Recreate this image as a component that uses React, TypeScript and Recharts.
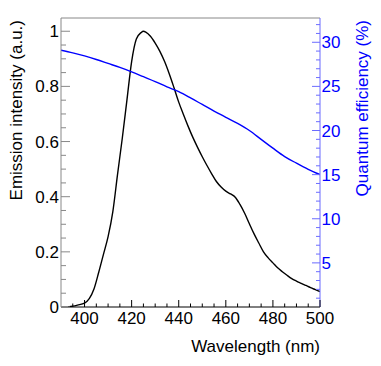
import { ComposedChart, Line, XAxis, YAxis, ReferenceLine } from 'recharts';

// emission spectrum (black, left axis)
const emissionWl = [
  393, 395, 397, 400, 402, 404, 406, 408, 410, 412, 414, 416, 418, 420, 422, 424, 425, 426, 428, 430,
  432, 434, 436, 438, 440, 442, 444, 446, 448, 450, 452, 454, 456, 458, 460, 462, 464, 466, 468, 470,
  472, 474, 476, 478, 480, 482, 484, 486, 488, 490, 492, 494, 496, 498, 500,
];
const emissionVal = [
  0, 0.003, 0.007, 0.014, 0.03, 0.065, 0.125, 0.19, 0.255, 0.345, 0.48, 0.61, 0.75, 0.89, 0.972, 0.995, 1.0, 0.997, 0.982, 0.957,
  0.927, 0.89, 0.845, 0.795, 0.743, 0.698, 0.655, 0.615, 0.579, 0.545, 0.513, 0.483, 0.455, 0.435, 0.42, 0.41, 0.398, 0.372, 0.34, 0.302,
  0.265, 0.232, 0.2, 0.178, 0.16, 0.142, 0.128, 0.115, 0.103, 0.094, 0.086, 0.078, 0.07, 0.063, 0.056,
];

// quantum efficiency (blue, right axis)
const qeWl = [390, 395, 400, 405, 410, 415, 420, 425, 430, 435, 440, 445, 450, 455, 460, 465, 470, 475, 480, 485, 490, 495, 500];
const qeVal = [
  29.1, 28.8, 28.45, 28.05, 27.6, 27.15, 26.65, 26.1, 25.55, 24.95, 24.4, 23.7, 22.95, 22.2, 21.5, 20.8, 20.0, 19.0, 18.0, 17.05,
  16.3, 15.6, 15.0,
];

const xTicks = [395, 400, 405, 410, 415, 420, 425, 430, 435, 440, 445, 450, 455, 460, 465, 470, 475, 480, 485, 490, 495, 500];
const xLabels = [400, 420, 440, 460, 480, 500];
const leftTicks = [
  0.05, 0.1, 0.15, 0.2, 0.25, 0.3, 0.35, 0.4, 0.45, 0.5, 0.55, 0.6, 0.65, 0.7, 0.75, 0.8, 0.85, 0.9, 0.95, 1,
];
const leftLabels = [0, 0.2, 0.4, 0.6, 0.8, 1];
const rightTicks = [
  1, 2, 3, 4, 5, 6, 7, 8, 9, 10, 11, 12, 13, 14, 15, 16, 17, 18, 19, 20, 21, 22, 23, 24, 25, 26, 27, 28, 29, 30, 31, 32,
];
const rightLabels = [5, 10, 15, 20, 25, 30];

const emissionData = emissionWl.map((wl, i) => ({ wl, emission: emissionVal[i] }));
const qeData = qeWl.map((wl, i) => ({ wl, qe: qeVal[i] }));

const font = '"Liberation Sans", Arial, Helvetica, sans-serif';
const blue = '#0000ff';
const axisBlue = '#6b6bff';

const XTick = ({ x, y, payload }: any) => {
  const major = xLabels.includes(payload.value);
  return (
    <g>
      <line x1={x} x2={x} y1={y} y2={y - (major ? 7 : 3.5)} stroke="#000" />
      {major && (
        <text x={x} y={y + 16.5} textAnchor="middle" fontSize={17} fontFamily={font} fill="#000">
          {payload.value}
        </text>
      )}
    </g>
  );
};

const LeftTick = ({ x, y, payload }: any) => {
  const major = leftLabels.includes(payload.value);
  return (
    <g>
      <line x1={x} x2={x + (major ? 9 : 5)} y1={y} y2={y} stroke="#888" />
      {major && (
        <text x={x - 2} y={y + 6} textAnchor="end" fontSize={17} fontFamily={font} fill="#000">
          {String(payload.value)}
        </text>
      )}
    </g>
  );
};

const RightTick = ({ x, y, payload }: any) => {
  const major = rightLabels.includes(payload.value);
  return (
    <g>
      <line x1={x} x2={x - (major ? 8 : 4)} y1={y} y2={y} stroke={axisBlue} />
      {major && (
        <text x={x + 1.5} y={y + 6} textAnchor="start" fontSize={17} fontFamily={font} fill={blue}>
          {payload.value}
        </text>
      )}
    </g>
  );
};

export default function App() {
  return (
    <div style={{ position: 'absolute', left: 0, top: 0, width: 381, height: 366, background: '#fff' }}>
      <ComposedChart width={381} height={366} margin={{ top: 18, right: 0, bottom: 0, left: 0 }}>
        <XAxis
          type="number"
          dataKey="wl"
          domain={[390, 500]}
          ticks={xTicks}
          interval={0}
          allowDataOverflow
          height={59}
          tickSize={0}
          tickMargin={0}
          tickLine={false}
          axisLine={{ stroke: '#000' }}
          tick={XTick}
          label={(p: any) => (
            <text
              x={p.viewBox.x + p.viewBox.width}
              y={p.viewBox.y + 44.7}
              textAnchor="end"
              fontSize={17}
              fontFamily={font}
              fill="#000"
            >
              Wavelength (nm)
            </text>
          )}
        />
        <YAxis
          yAxisId="left"
          type="number"
          domain={[0, 1.048]}
          ticks={[0, ...leftTicks]}
          interval={0}
          allowDataOverflow
          width={61}
          tickSize={0}
          tickMargin={0}
          tickLine={false}
          axisLine={{ stroke: '#888' }}
          tick={LeftTick}
          label={(p: any) => (
            <text
              transform={`translate(22, 20) rotate(-90)`}
              textAnchor="end"
              fontSize={17}
              fontFamily={font}
              fill="#000"
            >
              Emission intensity (a.u.)
            </text>
          )}
        />
        <YAxis
          yAxisId="right"
          orientation="right"
          type="number"
          domain={[0, 32.75]}
          ticks={rightTicks}
          interval={0}
          allowDataOverflow
          width={61}
          tickSize={0}
          tickMargin={0}
          tickLine={false}
          axisLine={{ stroke: axisBlue }}
          tick={RightTick}
          label={(p: any) => (
            <text
              transform={`translate(368, 20) rotate(-90)`}
              textAnchor="end"
              fontSize={17}
              fontFamily={font}
              fill={blue}
            >
              Quantum efficiency (%)
            </text>
          )}
        />
        <ReferenceLine yAxisId="left" y={1.048} stroke="#888" ifOverflow="extendDomain" />
        <Line
          yAxisId="left"
          data={emissionData}
          dataKey="emission"
          type="monotone"
          stroke="#000"
          strokeWidth={1.4}
          dot={false}
          isAnimationActive={false}
        />
        <Line
          yAxisId="right"
          data={qeData}
          dataKey="qe"
          type="monotone"
          stroke={blue}
          strokeWidth={1.4}
          dot={false}
          isAnimationActive={false}
        />
      </ComposedChart>
    </div>
  );
}
